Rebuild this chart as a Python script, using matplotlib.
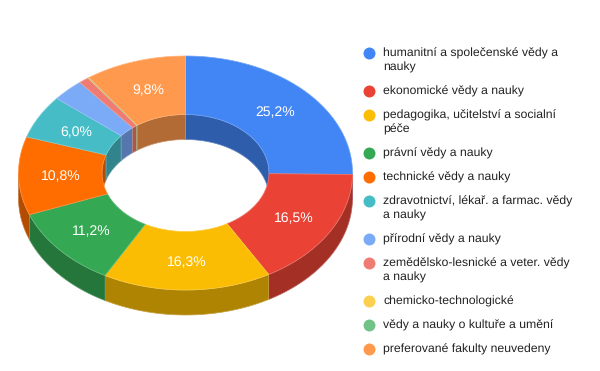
import numpy as np
import matplotlib
matplotlib.use('Agg')
import matplotlib.pyplot as plt
from matplotlib.colors import to_rgb

plt.rcParams['font.family'] = ['Liberation Sans', 'DejaVu Sans']
plt.rcParams['text.hinting'] = 'no_hinting'
plt.rcParams['text.hinting_factor'] = 8

labels = [
    'humanitní a společenské vědy a\nnauky',
    'ekonomické vědy a nauky',
    'pedagogika, učitelství a socialní\npéče',
    'právní vědy a nauky',
    'technické vědy a nauky',
    'zdravotnictví, lékař. a farmac. vědy\na nauky',
    'přírodní vědy a nauky',
    'zemědělsko-lesnické a veter. vědy\na nauky',
    'chemicko-technologické',
    'vědy a nauky o kultuře a umění',
    'preferované fakulty neuvedeny',
]
values = [25.2, 16.5, 16.3, 11.2, 10.8, 6.0, 3.1, 1.0, 0.05, 0.05, 9.8]
colors = ['#4285F4', '#EA4335', '#FBBC04', '#34A853', '#FF6D01', '#46BDC6',
          '#7BAAF7', '#F07B72', '#FCD04F', '#71C287', '#FF994D']

# pie geometry in pixels
cx, cy = 185.5, 173
rx, ry = 167, 117
depth = 25
hole = 0.5
label_r = 0.75
min_label = 5


def darker(c, k=0.7):
    return tuple(v * k for v in to_rgb(c))


def mix(c, k=0.25):
    return tuple(v + (1 - v) * k for v in to_rgb(c))


def arc(t0, t1, r, dy=0):
    # angles in radians, clockwise from 12 o'clock
    t = np.linspace(t0, t1, max(int(abs(t1 - t0) * 60), 2))
    return cx + rx * r * np.sin(t), cy - ry * r * np.cos(t) + dy


fig = plt.figure(figsize=(6, 3.71), dpi=100)
ax = fig.add_axes([0, 0, 1, 1])
ax.set_xlim(0, 600)
ax.set_ylim(371, 0)
ax.axis('off')

edges = np.cumsum([0] + values) / sum(values) * 2 * np.pi
slices = list(zip(edges[:-1], edges[1:], colors))

# outer wall, front half only
for t0, t1, c in slices:
    a, b = max(t0, np.pi / 2), min(t1, 3 * np.pi / 2)
    if b <= a:
        continue
    x, y = arc(a, b, 1)
    x2, y2 = arc(b, a, 1, depth)
    ax.fill(np.r_[x, x2], np.r_[y, y2], fc=darker(c), ec=mix(darker(c)), lw=0.5, zorder=1)

# inner wall, back half only
for t0, t1, c in slices:
    for a, b in [(t0, min(t1, np.pi / 2)), (max(t0, 3 * np.pi / 2), t1)]:
        if b <= a:
            continue
        x, y = arc(a, b, hole)
        x2, y2 = arc(b, a, hole, depth)
        ax.fill(np.r_[x, x2], np.r_[y, y2], fc=darker(c), ec=mix(darker(c)), lw=0.5, zorder=2)

# top of the ring
for t0, t1, c in slices:
    x, y = arc(t0, t1, 1)
    x2, y2 = arc(t1, t0, hole)
    ax.fill(np.r_[x, x2], np.r_[y, y2], fc=c, ec=mix(c), lw=0.5, zorder=3)

# percent labels
for v, t0, t1 in zip(values, edges[:-1], edges[1:]):
    if v < min_label:
        continue
    xm, ym = arc((t0 + t1) / 2, (t0 + t1) / 2, label_r)
    ax.text(xm[0] + 0.5, ym[0] + 5, f'{v:.1f}%'.replace('.', ','), color='white', fontsize=10.1,
            ha='center', va='baseline', zorder=4)

# legend
ly = 52.7
for lab, c in zip(labels, colors):
    ax.plot([368.5], [ly], 'o', ms=8.6, color=c, mew=0, zorder=4)
    lines = lab.split('\n')
    for i, line in enumerate(lines):
        ax.text(383, ly + 4 + i * 14, line, color='#222222', fontsize=8.85, ha='left', va='baseline')
    ly += 24 + 14 * (len(lines) - 1)

fig.savefig('out.png', dpi=100)
